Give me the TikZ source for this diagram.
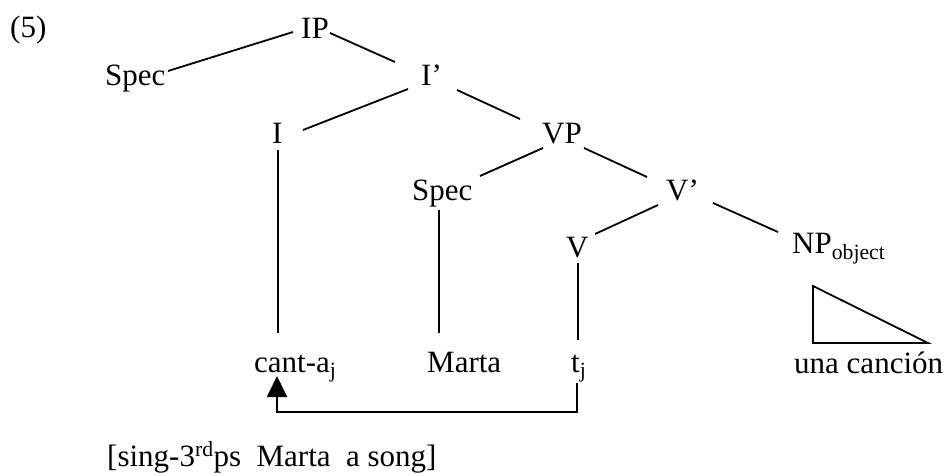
\documentclass[tikz,border=0pt]{standalone}
\usepackage{fontspec}
\setmainfont{Liberation Serif}
\usetikzlibrary{arrows.meta}
\begin{document}
\begin{tikzpicture}[x=1pt,y=-1pt,
  lbl/.style={anchor=base west,inner sep=0pt,font=\fontsize{31}{37}\selectfont},
  edge/.style={draw,line width=1.8pt}]
\useasboundingbox (0,0) rectangle (948,475);
\node[lbl] (ex) at (10,37) {(5)};
\node[lbl] (ip) at (301,38) {IP};
\node[lbl] (spec1) at (105,85) {Spec};
\node[lbl] (ibar) at (421,85) {I’};
\node[lbl] (i) at (272,143) {I};
\node[lbl] (vp) at (542,143) {VP};
\node[lbl] (spec2) at (412,200) {Spec};
\node[lbl] (vbar) at (666,200) {V’};
\node[lbl] (v) at (566,257) {V};
\node[lbl] (np) at (792,253) {NP\textsubscript{object}};
\node[lbl] (canta) at (254,372) {cant-a\textsubscript{j}};
\node[lbl] (marta) at (427,372) {Marta};
\node[lbl] (tj) at (571,372) {t\textsubscript{j}};
\node[lbl] (cancion) at (794,373) {una canción};
\node[lbl] (gloss) at (107,466) {[sing-3\textsuperscript{rd}ps\ \ Marta\ \ a song]};
% tree branches
\path[edge] ([shift={(63,-14)}]spec1.base west) -- ([shift={(-8,-6)}]ip.base west);
\path[edge] ([shift={(29,-5)}]ip.base west) -- ([shift={(-26,-23)}]ibar.base west);
\path[edge] ([shift={(-13,4)}]ibar.base west) -- ([shift={(31,-13)}]i.base west);
\path[edge] ([shift={(36,5)}]ibar.base west) -- ([shift={(-22,-24)}]vp.base west);
\path[edge] ([shift={(1,5)}]vp.base west) -- ([shift={(68,-24)}]spec2.base west);
\path[edge] ([shift={(42,5)}]vp.base west) -- ([shift={(-19,-23)}]vbar.base west);
\path[edge] ([shift={(-8,5)}]vbar.base west) -- ([shift={(29,-23)}]v.base west);
\path[edge] ([shift={(47,3)}]vbar.base west) -- ([shift={(-14,-21)}]np.base west);
\path[edge] ([shift={(6,7)}]i.base west) -- ([shift={(24,-39)}]canta.base west);
\path[edge] ([shift={(27,10)}]spec2.base west) -- ([shift={(12,-39)}]marta.base west);
\path[edge] ([shift={(12,6)}]v.base west) -- ([shift={(7,-32)}]tj.base west);
% triangle under NP
\path[edge,line join=miter] ([shift={(21,33)}]np.base west) -- ([shift={(21,90)}]np.base west) -- ([shift={(136,90)}]np.base west) -- cycle;
% movement arrow
\path[edge,-{Triangle[width=20pt,length=21pt]}] ([shift={(6,11)}]tj.base west) -- ++(0,29) -| ([shift={(23,4)}]canta.base west);
\end{tikzpicture}
\end{document}
